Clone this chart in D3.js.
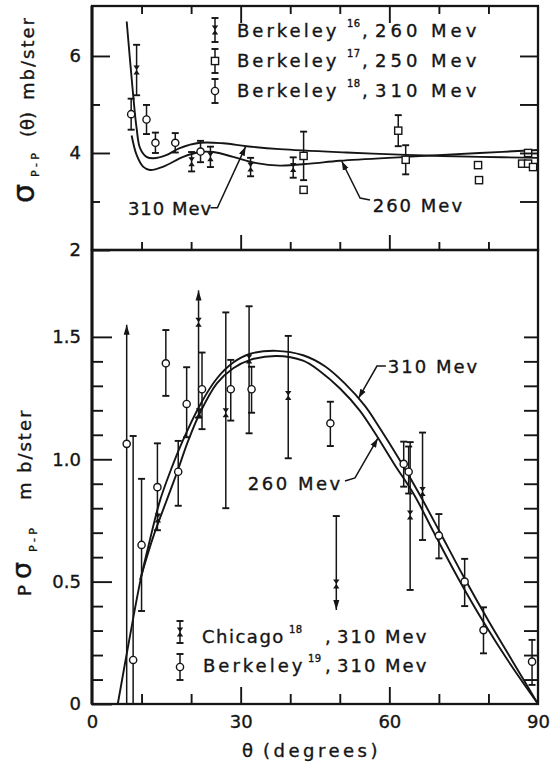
<!DOCTYPE html>
<html>
<head>
<meta charset="utf-8">
<script src="https://cdn.jsdelivr.net/npm/d3@7/dist/d3.min.js"></script>
<style>
body { margin: 0; background: #fff; }
text { font-family: "DejaVu Sans", sans-serif; fill: #151515; stroke: #151515; stroke-width: 0.35px; }
</style>
</head>
<body>
<script>
// ---- upper panel: sigma(theta), mb/ster ----
var top310 = [[7.0,6.71],[8.3,5.2],[9.0,4.51],[9.7,4.10],[11.0,3.92],[12.4,3.89],[15.1,3.96],[17.7,4.10],[21.8,4.21],[26.5,4.20],[31.2,4.14],[37.9,4.08],[51.3,4.01],[63.4,3.96],[78.2,3.92],[90,3.90]];
var top260 = [[8.0,4.36],[9.0,3.96],[10.3,3.72],[11.7,3.65],[14.4,3.72],[18.4,3.92],[21.8,4.02],[24.5,4.02],[28.5,3.92],[33.2,3.79],[37.9,3.74],[44,3.78],[50,3.84],[63.4,3.92],[78.2,4.0],[90,4.06]];

var b16Theta = [9.0, 20.1, 23.9, 32.0, 40.6];
var b16Val   = [5.71, 3.82, 3.92, 3.71, 3.70];
var b16Err   = [0.52, 0.20, 0.21, 0.19, 0.21];

var b17Theta = [42.7, 42.7, 61.8, 63.3, 77.9, 78.1, 88.0, 86.8, 88.0, 89.0];
var b17Val   = [3.94, 3.24, 4.46, 3.86, 3.75, 3.44, 4.00, 3.78, 3.78, 3.71];
var b17Err   = [0.50, 0, 0.32, 0.30, 0, 0, 0, 0, 0, 0];

var b18Theta = [7.9, 11.0, 12.8, 16.8, 21.9];
var b18Val   = [4.80, 4.69, 4.21, 4.21, 4.03];
var b18Err   = [0.32, 0.30, 0.21, 0.20, 0.22];

// ---- lower panel: P*sigma, mb/ster ----
var pol310 = [[5.2,0],[7.5,0.26],[9.8,0.507],[11.8,0.68],[13.7,0.83],[15.7,0.945],[18.3,1.075],[21.8,1.222],[25.2,1.33],[28.5,1.395],[31.8,1.43],[37.2,1.443],[42.6,1.425],[47,1.38],[51,1.31],[55,1.22],[58,1.13],[62,1.0],[66,0.86],[70,0.71],[75,0.52],[80,0.34],[85,0.17],[90,0]];
var pol260 = [[9.7,0.507],[12.3,0.68],[15.1,0.834],[17.1,0.943],[19.4,1.075],[21.8,1.19],[25.2,1.31],[28.5,1.372],[31.8,1.405],[37.2,1.422],[42.6,1.403],[46,1.36],[50,1.29],[54,1.2],[57,1.11],[61,0.98],[65,0.855],[69,0.70],[74,0.51],[79,0.335],[84.5,0.16],[90,0]];

var chiTheta = [13.3, 21.5, 21.6, 27.0, 31.7, 39.6, 49.3, 64.2, 66.7];
var chiVal   = [0.76, 1.56, 1.19, 1.19, 1.41, 1.26, 0.49, 0.772, 0.868];
var chiLo    = [0.76, 1.17, 1.19, 0.80, 1.106, 1.004, 0.384, 0.466, 0.67];
var chiHi    = [0.76, 1.69, 1.19, 1.60, 1.625, 1.504, 0.768, 1.07, 1.109];
var chiArrow = ["", "up", "", "", "", "", "down", "", ""];

var b19Theta = [7.0, 8.3, 10.0, 13.2, 14.9, 17.4, 19.1, 22.2, 28.0, 32.2, 48.1, 62.9, 63.9, 70.0, 75.2, 79.0, 88.8];
var b19Val   = [1.063, 0.18, 0.65, 0.886, 1.392, 0.949, 1.226, 1.286, 1.286, 1.286, 1.147, 0.981, 0.949, 0.688, 0.50, 0.302, 0.173];
var b19Lo    = [0, 0, 0.38, 0.71, 1.259, 0.81, 1.09, 1.123, 1.158, 1.19, 1.054, 0.888, 0.86, 0.595, 0.40, 0.207, 0.078];
var b19Hi    = [1.55, 1.095, 0.92, 1.065, 1.528, 1.075, 1.376, 1.436, 1.406, 1.378, 1.235, 1.072, 1.052, 0.776, 0.593, 0.395, 0.262];
var b19Arrow = ["up", "", "", "", "", "", "", "", "", "", "", "", "", "", "", "", ""];

var xTicks = [10, 20, 30, 40, 50, 60, 70, 80];
var xMajor = [30, 60];

var ink = "#151515";
var svg = d3.select("body").append("svg").attr("width", 557).attr("height", 763);

var x = d3.scaleLinear().domain([0, 90]).range([92, 538]);
var yT = d3.scaleLinear().domain([2, 7.03]).range([250, 6]);
var yB = d3.scaleLinear().domain([0, 1.855]).range([704, 250]);

function lineFor(y) {
  return d3.line().x(function(d) { return x(d[0]); }).y(function(d) { return y(d[1]); })
    .curve(d3.curveCatmullRom.alpha(0.5));
}

function zip(t, v, lo, hi, arr) {
  return t.map(function(d, i) {
    return {t: d, v: v[i], lo: lo[i], hi: hi[i], arrow: arr ? arr[i] : ""};
  });
}

var defs = svg.append("defs");
defs.append("marker").attr("id", "ah").attr("viewBox", "0 0 10 10")
  .attr("refX", 10).attr("refY", 5).attr("markerWidth", 9).attr("markerHeight", 9)
  .attr("markerUnits", "userSpaceOnUse").attr("orient", "auto")
  .append("path").attr("d", "M0,1.5L10,5L0,8.5Z").attr("fill", ink);

// ---- curves ----
svg.append("path").attr("d", lineFor(yT)(top310)).attr("fill", "none").attr("stroke", ink).attr("stroke-width", 1.9);
svg.append("path").attr("d", lineFor(yT)(top260)).attr("fill", "none").attr("stroke", ink).attr("stroke-width", 1.9);
svg.append("path").attr("d", lineFor(yB)(pol310)).attr("fill", "none").attr("stroke", ink).attr("stroke-width", 1.9);
svg.append("path").attr("d", lineFor(yB)(pol260)).attr("fill", "none").attr("stroke", ink).attr("stroke-width", 1.9);

// ---- error bars ----
function drawBars(pts, y) {
  var g = svg.append("g");
  var b = pts.filter(function(d) { return d.hi > d.lo; });
  g.selectAll(null).data(b).enter().append("line")
    .attr("x1", function(d) { return x(d.t); }).attr("x2", function(d) { return x(d.t); })
    .attr("y1", function(d) { return y(d.lo); }).attr("y2", function(d) { return y(d.hi); })
    .attr("stroke", ink).attr("stroke-width", 1.5);
  var caps = [];
  b.forEach(function(d) {
    if (d.arrow !== "up") caps.push([d.t, d.hi]);
    if (d.arrow !== "down" && d.lo > 0) caps.push([d.t, d.lo]);
  });
  g.selectAll(null).data(caps).enter().append("line")
    .attr("x1", function(d) { return x(d[0]) - 3.5; }).attr("x2", function(d) { return x(d[0]) + 3.5; })
    .attr("y1", function(d) { return y(d[1]); }).attr("y2", function(d) { return y(d[1]); })
    .attr("stroke", ink).attr("stroke-width", 1.9);
  g.selectAll(null).data(b.filter(function(d) { return d.arrow; })).enter().append("path")
    .attr("d", function(d) {
      var px = x(d.t), up = d.arrow === "up", py = up ? y(d.hi) : y(d.lo), s = up ? 1 : -1;
      return "M" + px + "," + py + "L" + (px - 3) + "," + (py + 10 * s) + "L" + (px + 3) + "," + (py + 10 * s) + "Z";
    })
    .attr("fill", ink);
}

function sym(v, e, sign) { return v.map(function(d, i) { return d + sign * e[i]; }); }

var b16 = zip(b16Theta, b16Val, sym(b16Val, b16Err, -1), sym(b16Val, b16Err, 1));
var b17 = zip(b17Theta, b17Val, sym(b17Val, b17Err, -1), sym(b17Val, b17Err, 1));
var b18 = zip(b18Theta, b18Val, sym(b18Val, b18Err, -1), sym(b18Val, b18Err, 1));
var chi = zip(chiTheta, chiVal, chiLo, chiHi, chiArrow);
var b19 = zip(b19Theta, b19Val, b19Lo, b19Hi, b19Arrow);

drawBars(b16, yT); drawBars(b17, yT); drawBars(b18, yT);
drawBars(chi, yB); drawBars(b19, yB);

// ---- point symbols ----
var hourglass = "M-3.2,-4.5L3.2,-4.5L0,0ZM-3.2,4.5L3.2,4.5L0,0Z";
function crosses(pts, y) {
  svg.append("g").selectAll(null).data(pts).enter().append("path")
    .attr("d", hourglass).attr("fill", ink)
    .attr("transform", function(d) { return "translate(" + x(d.t) + "," + y(d.v) + ")"; });
}
function circles(pts, y) {
  svg.append("g").selectAll(null).data(pts).enter().append("circle")
    .attr("cx", function(d) { return x(d.t); }).attr("cy", function(d) { return y(d.v); })
    .attr("r", 3.6).attr("fill", "#fff").attr("stroke", ink).attr("stroke-width", 1.4);
}
function squares(pts, y) {
  svg.append("g").selectAll(null).data(pts).enter().append("rect")
    .attr("x", function(d) { return x(d.t) - 3.6; }).attr("y", function(d) { return y(d.v) - 3.6; })
    .attr("width", 7.2).attr("height", 7.2).attr("fill", "#fff").attr("stroke", ink).attr("stroke-width", 1.4);
}
crosses(b16, yT); squares(b17, yT); circles(b18, yT);
crosses(chi, yB); circles(b19, yB);

// ---- frames & ticks ----
function axis(gen, pos, vals, size, fmt) {
  var g = svg.append("g").attr("transform", pos)
    .call(gen.tickValues(vals).tickSize(size).tickPadding(11).tickFormat(fmt || ""));
  g.select(".domain").remove();
  g.attr("font-family", "DejaVu Sans, sans-serif").attr("font-size", 18);
  g.selectAll("line").attr("stroke", ink).attr("stroke-width", 1.9);
  g.selectAll("text").attr("fill", ink);
  return g;
}
var minorX = xTicks.filter(function(d) { return xMajor.indexOf(d) < 0; });

// upper panel
axis(d3.axisLeft(yT), "translate(92,0)", [2, 4, 6], -18, d3.format("d"));
axis(d3.axisLeft(yT), "translate(92,0)", [3, 5], -8);
axis(d3.axisRight(yT), "translate(538,0)", [3, 4, 5, 6], -18);
axis(d3.axisBottom(x), "translate(0,6)", minorX, 8);
axis(d3.axisBottom(x), "translate(0,6)", xMajor, 17);
axis(d3.axisTop(x), "translate(0,250)", minorX, 8);
axis(d3.axisTop(x), "translate(0,250)", xMajor, 15);

// lower panel
var polMinor = d3.range(1, 15).map(function(d) { return d / 10; }).filter(function(d) { return d !== 0.5 && d !== 1; });
var polAll = d3.range(1, 16).map(function(d) { return d / 10; });
axis(d3.axisLeft(yB), "translate(92,0)", [0, 0.5, 1.0, 1.5], -20, function(d) { return d === 0 ? "0" : d3.format(".1f")(d); });
axis(d3.axisLeft(yB), "translate(92,0)", polMinor, -11);
axis(d3.axisRight(yB), "translate(538,0)", polAll, -14);
axis(d3.axisBottom(x), "translate(0,704)", minorX, -10);
axis(d3.axisBottom(x), "translate(0,704)", [0, 30, 60, 90], -17, d3.format("d"))
  .selectAll(".tick").filter(function(d) { return d === 0 || d === 90; }).select("line").remove();

svg.append("rect").attr("x", 92).attr("y", 6).attr("width", 446).attr("height", 244)
  .attr("fill", "none").attr("stroke", ink).attr("stroke-width", 2.3);
svg.append("rect").attr("x", 92).attr("y", 250).attr("width", 446).attr("height", 454)
  .attr("fill", "none").attr("stroke", ink).attr("stroke-width", 2.3);
svg.append("line").attr("x1", 92).attr("x2", 92).attr("y1", 6).attr("y2", 704)
  .attr("stroke", ink).attr("stroke-width", 3);

// ---- curve labels with leader arrows ----
var leaders = [
  {y: yT, label: "310 Mev", at: [7.25, 2.72], ls: 1,   path: [[23.9, 2.87], [25.3, 2.87], [31, 4.13]]},
  {y: yT, label: "260 Mev", at: [56.65, 2.78], ls: 2,  path: [[56.1, 3.03], [54.1, 3.07], [50.4, 3.83]]},
  {y: yB, label: "310 Mev", at: [59.7, 1.353], ls: 2,  path: [[59.3, 1.381], [57.5, 1.381], [53.8, 1.25]]},
  {y: yB, label: "260 Mev", at: [31.45, 0.875], ls: 2.5, path: [[51.05, 0.911], [53.07, 0.924], [57.66, 1.085]]}
];
leaders.forEach(function(l) {
  svg.append("text").attr("x", x(l.at[0])).attr("y", l.y(l.at[1]))
    .attr("font-size", 18).attr("letter-spacing", l.ls).text(l.label);
  svg.append("path").attr("d", d3.line().x(function(d) { return x(d[0]); }).y(function(d) { return l.y(d[1]); })(l.path))
    .attr("fill", "none").attr("stroke", ink).attr("stroke-width", 1.5).attr("marker-end", "url(#ah)");
});

// ---- legends ----
function legendMark(kind, cx, cy, half) {
  var g = svg.append("g");
  g.append("line").attr("x1", cx).attr("x2", cx).attr("y1", cy - half).attr("y2", cy + half)
    .attr("stroke", ink).attr("stroke-width", 1.5);
  [cy - half, cy + half].forEach(function(yy) {
    g.append("line").attr("x1", cx - 3.5).attr("x2", cx + 3.5).attr("y1", yy).attr("y2", yy)
      .attr("stroke", ink).attr("stroke-width", 1.9);
  });
  if (kind === "x") g.append("path").attr("d", hourglass).attr("fill", ink).attr("transform", "translate(" + cx + "," + cy + ")");
  if (kind === "o") g.append("circle").attr("cx", cx).attr("cy", cy).attr("r", 3.6).attr("fill", "#fff").attr("stroke", ink).attr("stroke-width", 1.4);
  if (kind === "s") g.append("rect").attr("x", cx - 3.6).attr("y", cy - 3.6).attr("width", 7.2).attr("height", 7.2).attr("fill", "#fff").attr("stroke", ink).attr("stroke-width", 1.4);
}
function legendRow(name, nameX, nameLs, sup, supX, commaX, energy, energyX, energyLs, base) {
  var t = svg.append("text").attr("y", base).attr("font-size", 18);
  t.append("tspan").attr("x", nameX).attr("letter-spacing", nameLs).text(name);
  t.append("tspan").attr("x", supX).attr("y", base - 10).attr("font-size", 10).attr("letter-spacing", 0.5).text(sup);
  t.append("tspan").attr("x", commaX).attr("y", base).text(",");
  t.append("tspan").attr("x", energyX).attr("letter-spacing", energyLs).text(energy);
}
legendMark("x", 215, 30, 12);
legendMark("s", 215, 61, 12);
legendMark("o", 215, 91, 12);
legendRow("Berkeley", 237, 3, "16", 347, 362, "260 Mev", 375, 4, 37);
legendRow("Berkeley", 237, 3, "17", 347, 362, "250 Mev", 375, 4, 67);
legendRow("Berkeley", 237, 3, "18", 347, 362, "310 Mev", 375, 4, 97);

legendMark("x", 180, 632, 11);
legendMark("o", 180, 667, 13);
legendRow("Chicago", 202, 1.5, "18", 289, 325, "310 Mev", 337, 2, 643);
legendRow("Berkeley", 203, 3, "19", 308, 325, "310 Mev", 337, 2, 672);

// ---- axis titles ----
var yt1 = svg.append("text").attr("transform", "translate(34,203) rotate(-90)").attr("font-size", 18);
yt1.append("tspan").attr("x", 0).attr("y", 0).attr("font-size", 30).text("σ");
yt1.append("tspan").attr("x", 26).attr("y", 5).attr("font-size", 11).attr("letter-spacing", 3.5).text("P-P");
yt1.append("tspan").attr("x", 66).attr("y", 0).text("(θ)");
yt1.append("tspan").attr("x", 103).attr("y", 0).attr("letter-spacing", 2).text("mb/ster");

var yt2 = svg.append("text").attr("transform", "translate(31,596) rotate(-90)").attr("font-size", 18);
yt2.append("tspan").attr("x", 0).attr("y", 0).text("P");
yt2.append("tspan").attr("x", 17).attr("y", 0).attr("font-size", 27).text("σ");
yt2.append("tspan").attr("x", 44).attr("y", 6).attr("font-size", 11).attr("letter-spacing", 3.5).text("P-P");
yt2.append("tspan").attr("x", 96).attr("y", 0).text("m");
yt2.append("tspan").attr("x", 123).attr("y", 0).attr("letter-spacing", 2).text("b/ster");

var xt = svg.append("text").attr("y", 757).attr("font-size", 18);
xt.append("tspan").attr("x", 242).text("θ");
xt.append("tspan").attr("x", 263).attr("letter-spacing", 3.5).text("(degrees)");
</script>
</body>
</html>
